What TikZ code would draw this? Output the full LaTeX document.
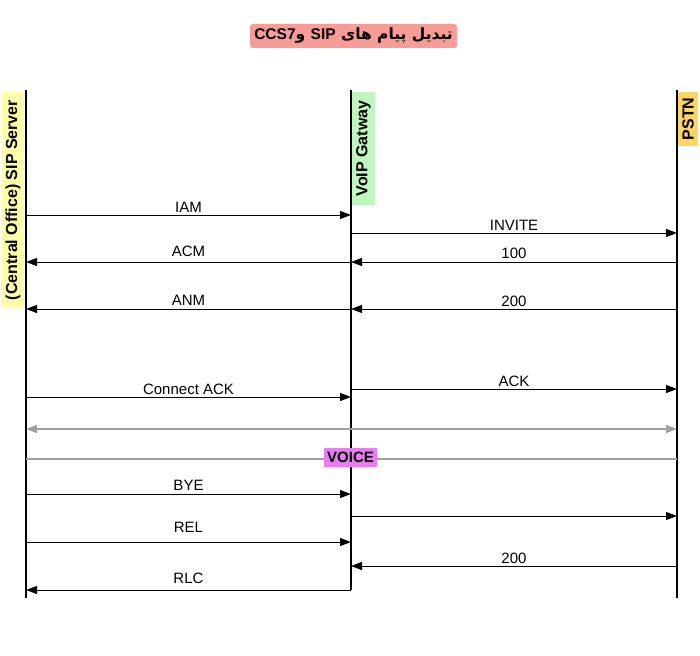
\documentclass[tikz,border=0pt]{standalone}
\usepackage{fontspec}
\setmainfont{Liberation Sans}
\newfontfamily\arabicfont[Script=Arabic]{DejaVu Sans}
\TeXXeTstate=1
\usetikzlibrary{arrows.meta}
\definecolor{titlebg}{RGB}{248,156,152}
\definecolor{yellowbg}{RGB}{255,255,170}
\definecolor{greenbg}{RGB}{192,245,192}
\definecolor{orangebg}{RGB}{255,214,102}
\definecolor{voicebg}{RGB}{232,124,240}
\definecolor{grayline}{RGB}{160,160,160}
\tikzset{
  life/.style={line width=1.2pt, black},
  msg/.style={line width=0.9pt, black, -{Triangle[length=11pt,width=8pt]}},
  gmsg/.style={line width=1.4pt, grayline, {Triangle[length=11pt,width=8pt]}-{Triangle[length=11pt,width=8pt]}},
  gline/.style={line width=1.4pt, grayline},
  lbl/.style={inner sep=0pt, anchor=center, font=\fontsize{15}{17}\selectfont},
  actor/.style={rotate=90, inner sep=0pt, font=\fontsize{16}{18}\bfseries},
}
\begin{document}
\begin{tikzpicture}[x=1pt,y=-1pt]
\useasboundingbox[fill=white] (0,0) rectangle (700,655);
% title
\node[fill=titlebg, rounded corners=3pt, minimum width=207pt, minimum height=24pt, inner sep=0pt] (title) at (353.5,36)
  {\fontsize{15.5}{17}\selectfont\bfseries\arabicfont\beginR تبدیل پیام های \beginL{\normalfont\bfseries SIP}\endL{} و\beginL{\normalfont\bfseries CCS7}\endL\endR};
% lifelines
\coordinate (Ltop) at (26,90);  \coordinate (Lbot) at (26,598);
\coordinate (Mtop) at (351,90); \coordinate (Mbot) at (351,590);
\coordinate (Rtop) at (677,90); \coordinate (Rbot) at (677,598);
\draw[life] (Ltop) -- (Lbot);
\draw[life] (Mtop) -- (Mbot);
\draw[life] (Rtop) -- (Rbot);
% actor labels
\node[actor, fill=yellowbg, minimum width=216pt, minimum height=22pt] (server) at (13,200) {(Central Office) SIP Server};
\node[actor, fill=greenbg, minimum width=113pt, minimum height=23pt] (gw) at (363.5,148.5) {VoIP Gatway};
\node[actor, fill=orangebg, minimum width=54pt, minimum height=20pt] (pstn) at (688,119) {PSTN};
% message end points
\foreach \n/\y in {a/215,b/233,c/262,d/309,e/389,f/397,g/429,h/459,i/494,j/516,k/542,l/566,m/590}{
  \coordinate (L\n) at (26,\y);
  \coordinate (M\n) at (351,\y);
  \coordinate (R\n) at (677,\y);
}
\draw[msg] (La) -- node[lbl, yshift=8pt] (tiam) {IAM} (Ma);
\draw[msg] (Mb) -- node[lbl, yshift=8pt] (tinv) {INVITE} (Rb);
\draw[msg] (Mc) -- node[lbl, yshift=11pt] (tacm) {ACM} (Lc);
\draw[msg] (Rc) -- node[lbl, yshift=9pt] (t100) {100} (Mc);
\draw[msg] (Md) -- node[lbl, yshift=9pt] (tanm) {ANM} (Ld);
\draw[msg] (Rd) -- node[lbl, yshift=8pt] (t200a) {200} (Md);
\draw[msg] (Me) -- node[lbl, yshift=8pt] (tack) {ACK} (Re);
\draw[msg] (Lf) -- node[lbl, yshift=8pt] (tcack) {Connect ACK} (Mf);
\draw[gmsg] (Lg) -- (Rg);
\draw[gline] (Lh) -- (Rh);
\draw[msg] (Li) -- node[lbl, yshift=9pt] (tbye) {BYE} (Mi);
\draw[msg] (Mj) -- (Rj);
\draw[msg] (Lk) -- node[lbl, yshift=15pt] (trel) {REL} (Mk);
\draw[msg] (Rl) -- node[lbl, yshift=8pt] (t200b) {200} (Ml);
\draw[msg] (Mm) -- node[lbl, yshift=12pt] (trlc) {RLC} (Lm);
% voice
\node[fill=voicebg, minimum width=53pt, minimum height=19pt, inner sep=0pt, font=\fontsize{15}{17}\bfseries] (voice) at (350.5,457.5) {VOICE};
\end{tikzpicture}
\end{document}
